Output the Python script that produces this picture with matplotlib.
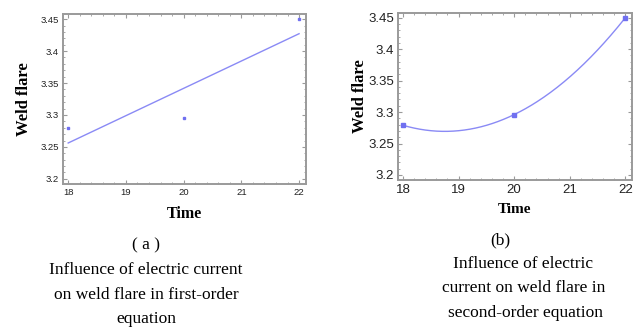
import numpy as np
import matplotlib
matplotlib.use("Agg")
import matplotlib.pyplot as plt
from matplotlib.ticker import MultipleLocator

# measured points (same for both panels)
time = [18, 20, 22]
flare = [3.279, 3.296, 3.450]

xticks = [18, 19, 20, 21, 22]
yticks = [3.2, 3.25, 3.3, 3.35, 3.4, 3.45]
ytick_labels = ["3.2", "3.25", "3.3", "3.35", "3.4", "3.45"]

caption_a = ["( a )", "Influence of electric current", "on weld flare in first-order", "equation"]
caption_b = ["(b)", "Influence of electric", "current on weld flare in", "second-order equation"]

line_col = "#8a8af5"
frame_col = "#9a9a9a"

fig = plt.figure(figsize=(6.4, 3.31), dpi=100)

def style_axes(ax, tick_size):
    ax.set_xlim(17.91, 22.12)
    ax.set_ylim(3.192, 3.458)
    ax.set_xticks(xticks)
    ax.set_xticklabels([str(t) for t in xticks])
    ax.set_yticks(yticks)
    ax.set_yticklabels(ytick_labels)
    ax.xaxis.set_minor_locator(MultipleLocator(0.2))
    ax.yaxis.set_minor_locator(MultipleLocator(0.01))
    ax.tick_params(which="both", direction="in", top=True, right=True,
                   color=frame_col, labelsize=tick_size, pad=3,
                   labelfontfamily="Liberation Sans", labelcolor="#222222")
    ax.tick_params(which="major", length=3, width=0.8)
    ax.tick_params(which="minor", length=1.5, width=0.6)
    for s in ax.spines.values():
        s.set_color(frame_col)
        s.set_linewidth(1.4)

# (a) first-order fit
ax1 = fig.add_axes([63 / 640, 1 - 184 / 331, 243 / 640, 170 / 331])
style_axes(ax1, 6.8)
c1 = np.polyfit(time, flare, 1)
xs = np.linspace(18, 22, 50)
ax1.plot(xs, np.polyval(c1, xs), color=line_col, lw=1.0)
ax1.plot(time, flare, ls="none", marker="s", ms=2, color="#7070f0")
ax1.set_xlabel("Time", family="Liberation Serif", weight="bold", fontsize=11.5, labelpad=6)
ax1.set_ylabel("Weld flare", family="Liberation Serif", weight="bold", fontsize=12, labelpad=6)

# (b) second-order fit
ax2 = fig.add_axes([398 / 640, 1 - 180 / 331, 234 / 640, 167.3 / 331])
style_axes(ax2, 9.5)
c2 = np.polyfit(time, flare, 2)
xs2 = np.linspace(18, 22, 200)
ax2.plot(xs2, np.polyval(c2, xs2), color=line_col, lw=1.0)
ax2.plot(time, flare, ls="none", marker="s", ms=2.5, color="#7070f0")
ax2.set_xlabel("Time", family="Liberation Serif", weight="bold", fontsize=11, labelpad=5)
ax2.set_ylabel("Weld flare", family="Liberation Serif", weight="bold", fontsize=12, labelpad=0)

# captions
ys_a = [245, 270, 295, 319]
for txt, yy in zip(caption_a, ys_a):
    fig.text(146 / 640, 1 - yy / 331, txt, ha="center", va="center",
             family="Liberation Serif", fontsize=12.5, color="#000000")
ys_b = [240, 264, 288, 313]
xs_b = [500, 523, 524, 526]
for txt, xx, yy in zip(caption_b, xs_b, ys_b):
    fig.text(xx / 640, 1 - yy / 331, txt, ha="center", va="center",
             family="Liberation Serif", fontsize=12.5, color="#000000")

fig.savefig("out.png", dpi=100)
